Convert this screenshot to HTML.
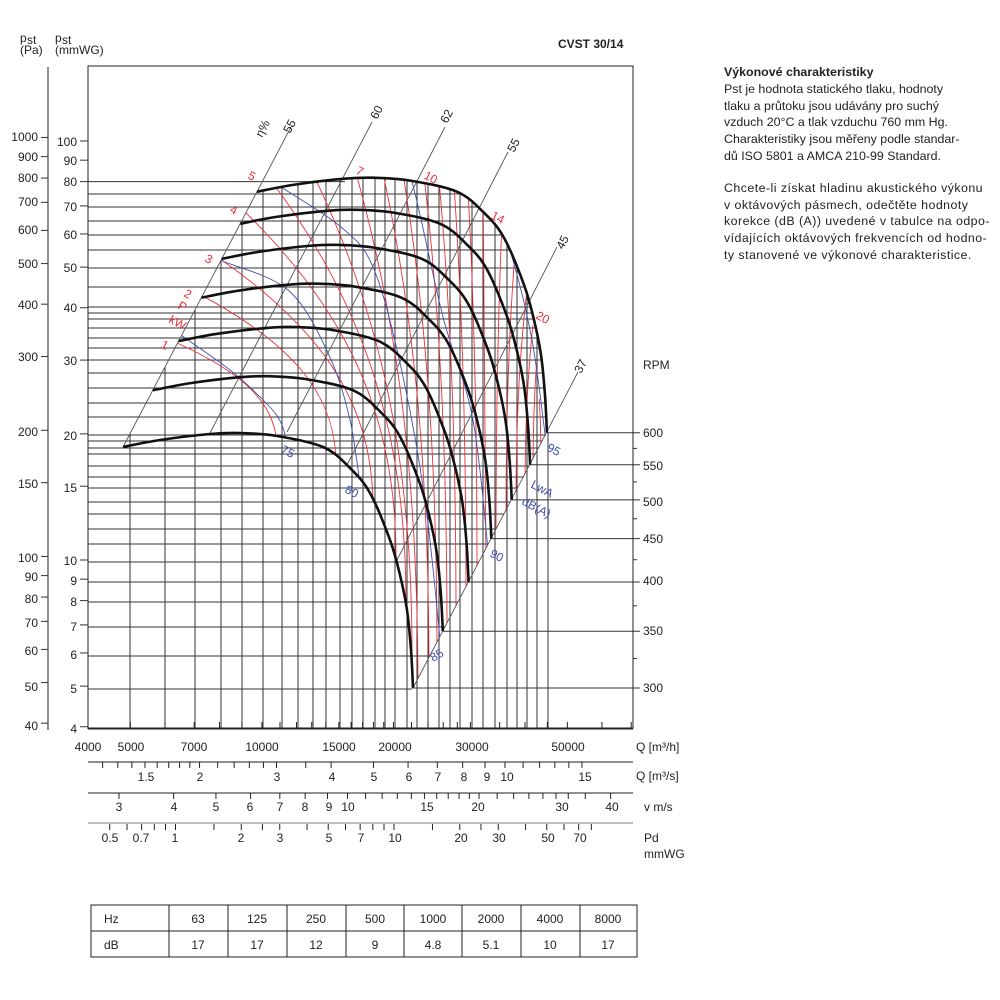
<!DOCTYPE html>
<html><head><meta charset="utf-8"><style>
html,body{margin:0;padding:0;background:#fff;}
body{width:1000px;height:1000px;position:relative;overflow:hidden;font-family:"Liberation Sans",sans-serif;}
svg{position:absolute;left:0;top:0;}
.t{font-family:"Liberation Sans",sans-serif;font-size:12px;fill:#222;}
#txt{position:absolute;left:724px;top:64px;width:276px;font-size:12.4px;line-height:16.8px;color:#222;}
#p2{letter-spacing:0.45px;}
</style></head><body>
<svg id="s" width="1000" height="1000" viewBox="0 0 1000 1000">
<defs>
<clipPath id="ch"><path id="chp" d=""/></clipPath>
<clipPath id="cv"><path id="cvp" d=""/></clipPath>
<clipPath id="cr"><path id="crp" d=""/></clipPath>
</defs>
<g id="grid"></g>
<g id="lines"></g>
<rect x="88" y="66" width="545" height="662" fill="none" stroke="#222" stroke-width="1"/>
<line x1="48" y1="67" x2="48" y2="730" stroke="#222" stroke-width="1"/>
<g id="ticks"></g>
<text class="t" x="20" y="42" font-size="12">p</text><text class="t" x="27" y="44" font-size="7">st</text>
<text class="t" x="20" y="54" font-size="9">(Pa)</text>
<text class="t" x="55" y="42" font-size="12">p</text><text class="t" x="62" y="44" font-size="7">st</text>
<text class="t" x="55" y="54" font-size="9">(mmWG)</text>
<text class="t" x="558" y="48" font-size="13" font-weight="bold">CVST 30/14</text>
<g class="t" text-anchor="end" font-size="12">
<text x="38" y="141">1000</text><text x="38" y="161">900</text><text x="38" y="182">800</text><text x="38" y="206">700</text><text x="38" y="234">600</text><text x="38" y="268">500</text><text x="38" y="309">400</text><text x="38" y="361">300</text><text x="38" y="436">200</text><text x="38" y="488">150</text><text x="38" y="562">100</text><text x="38" y="581">90</text><text x="38" y="603">80</text><text x="38" y="627">70</text><text x="38" y="655">60</text><text x="38" y="691">50</text><text x="38" y="730">40</text>
</g>
<g class="t" text-anchor="end" font-size="12">
<text x="77" y="146">100</text><text x="77" y="165">90</text><text x="77" y="186">80</text><text x="77" y="211">70</text><text x="77" y="239">60</text><text x="77" y="272">50</text><text x="77" y="312">40</text><text x="77" y="365">30</text><text x="77" y="440">20</text><text x="77" y="492">15</text><text x="77" y="565">10</text><text x="77" y="585">9</text><text x="77" y="606">8</text><text x="77" y="631">7</text><text x="77" y="659">6</text><text x="77" y="693">5</text><text x="77" y="733">4</text>
</g>
<g class="t" font-size="12">
<text x="643" y="369">RPM</text>
<text x="643" y="437">600</text><text x="643" y="470">550</text><text x="643" y="506">500</text><text x="643" y="543">450</text><text x="643" y="585">400</text><text x="643" y="635">350</text><text x="643" y="692">300</text>
</g>
<g class="t" text-anchor="middle" font-size="12">
<text x="88" y="751">4000</text><text x="131" y="751">5000</text><text x="194" y="751">7000</text><text x="262" y="751">10000</text><text x="339" y="751">15000</text><text x="395" y="751">20000</text><text x="472" y="751">30000</text><text x="568" y="751">50000</text>
<text x="146" y="781">1.5</text><text x="200" y="781">2</text><text x="277" y="781">3</text><text x="332" y="781">4</text><text x="374" y="781">5</text><text x="409" y="781">6</text><text x="438" y="781">7</text><text x="464" y="781">8</text><text x="487" y="781">9</text><text x="507" y="781">10</text><text x="585" y="781">15</text>
<text x="119" y="811">3</text><text x="174" y="811">4</text><text x="216" y="811">5</text><text x="250" y="811">6</text><text x="280" y="811">7</text><text x="305" y="811">8</text><text x="329" y="811">9</text><text x="348" y="811">10</text><text x="427" y="811">15</text><text x="478" y="811">20</text><text x="562" y="811">30</text><text x="612" y="811">40</text>
<text x="110" y="842">0.5</text><text x="141" y="842">0.7</text><text x="175" y="842">1</text><text x="241" y="842">2</text><text x="280" y="842">3</text><text x="329" y="842">5</text><text x="361" y="842">7</text><text x="395" y="842">10</text><text x="461" y="842">20</text><text x="499" y="842">30</text><text x="548" y="842">50</text><text x="580" y="842">70</text>
</g>
<g class="t" font-size="12">
<text x="636" y="751">Q [m³/h]</text>
<text x="636" y="780">Q [m³/s]</text>
<text x="644" y="811">v m/s</text>
<text x="644" y="842">Pd</text>
<text x="644" y="858">mmWG</text>
</g>
<g class="t" font-size="11.5" fill="#333">
<text transform="translate(262,138) rotate(-62)">η%</text>
<text transform="translate(290,134) rotate(-62)">55</text>
<text transform="translate(377,120) rotate(-62)">60</text>
<text transform="translate(447,124) rotate(-62)">62</text>
<text transform="translate(514,153) rotate(-62)">55</text>
<text transform="translate(563,250) rotate(-62)">45</text>
<text transform="translate(581,374) rotate(-62)">37</text>
</g>
<g class="t" font-size="11" style="fill:#e8303a">
<text transform="translate(160,347) rotate(28)">1</text>
<text transform="translate(168,322) rotate(28)">kW</text>
<text transform="translate(177,308) rotate(28)">P</text>
<text transform="translate(183,296) rotate(28)">2</text>
<text transform="translate(204,261) rotate(28)">3</text>
<text transform="translate(229,212) rotate(28)">4</text>
<text transform="translate(247,178) rotate(28)">5</text>
<text transform="translate(355,173) rotate(28)">7</text>
<text transform="translate(423,178) rotate(28)">10</text>
<text transform="translate(490,218) rotate(28)">14</text>
<text transform="translate(535,318) rotate(28)">20</text>
</g>
<g class="t" font-size="11" style="fill:#4050b0">
<text transform="translate(280,452) rotate(28)">75</text>
<text transform="translate(344,492) rotate(28)">80</text>
<text transform="translate(433,662) rotate(-30)">85</text>
<text transform="translate(489,556) rotate(28)">90</text>
<text transform="translate(546,450) rotate(28)">95</text>
<text transform="translate(530,487) rotate(28)">LwA</text>
<text transform="translate(521,504) rotate(28)">dB(A)</text>
</g>
<g stroke="#222" stroke-width="1" fill="none">
<rect x="91" y="905" width="546" height="52"/>
<line x1="91" y1="931" x2="637" y2="931"/>
<line x1="169" y1="905" x2="169" y2="957"/><line x1="228" y1="905" x2="228" y2="957"/><line x1="287" y1="905" x2="287" y2="957"/><line x1="346" y1="905" x2="346" y2="957"/><line x1="404" y1="905" x2="404" y2="957"/><line x1="462" y1="905" x2="462" y2="957"/><line x1="521" y1="905" x2="521" y2="957"/><line x1="580" y1="905" x2="580" y2="957"/>
</g>
<g class="t" font-size="12" text-anchor="middle">
<text x="104" y="923" text-anchor="start">Hz</text><text x="198" y="923">63</text><text x="257" y="923">125</text><text x="316" y="923">250</text><text x="375" y="923">500</text><text x="433" y="923">1000</text><text x="491" y="923">2000</text><text x="550" y="923">4000</text><text x="608" y="923">8000</text>
<text x="104" y="949" text-anchor="start">dB</text><text x="198" y="949">17</text><text x="257" y="949">17</text><text x="316" y="949">12</text><text x="375" y="949">9</text><text x="433" y="949">4.8</text><text x="491" y="949">5.1</text><text x="550" y="949">10</text><text x="608" y="949">17</text>
</g>
</svg>
<div id="txt"><b>Výkonové charakteristiky</b><br>Pst je hodnota statického tlaku, hodnoty<br>tlaku a průtoku jsou udávány pro suchý<br>vzduch 20°C a tlak vzduchu 760 mm Hg.<br>Charakteristiky jsou měřeny podle standar-<br>dů ISO 5801 a AMCA 210-99 Standard.<br><div style="height:15px"></div><div id="p2">Chcete-li získat hladinu akustického výkonu<br>v oktávových pásmech, odečtěte hodnoty<br>korekce (dB (A)) uvedené v tabulce na odpo-<br>vídajících oktávových frekvencích od hodno-<br>ty stanovené ve výkonové charakteristice.</div></div>
<script>
(function(){
var NS="http://www.w3.org/2000/svg";
function el(parent,tag,attrs){var e=document.createElementNS(NS,tag);for(var k in attrs)e.setAttribute(k,attrs[k]);parent.appendChild(e);return e;}
function cr(p){var d="M"+p[0][0]+","+p[0][1];for(var i=0;i<p.length-1;i++){var p0=p[i-1]||p[i],p1=p[i],p2=p[i+1],p3=p[i+2]||p2;
var c1=[p1[0]+(p2[0]-p0[0])/6,p1[1]+(p2[1]-p0[1])/6],c2=[p2[0]-(p3[0]-p1[0])/6,p2[1]-(p3[1]-p1[1])/6];
d+=" C"+c1[0].toFixed(1)+","+c1[1].toFixed(1)+" "+c2[0].toFixed(1)+","+c2[1].toFixed(1)+" "+p2[0]+","+p2[1];}return d;}
function ln(p){return p.map(function(q){return q[0].toFixed(1)+","+q[1].toFixed(1);}).join(" L");}
var b=[[123,447],[160,440],[210,434],[240,433],[277,436],[323,447],[350,468],[370,493],[390,540],[400,575],[407,610],[411,650],[413,688]];
function fan(n){var L=Math.log10(n/300);return b.map(function(p){return [p[0]+445*L,p[1]-848*L];});}
function sample(p){var tmp=document.createElementNS(NS,"path");tmp.setAttribute("d",cr(p));var s=document.getElementById("s");s.appendChild(tmp);var len=tmp.getTotalLength(),out=[];for(var i=0;i<=60;i++){var q=tmp.getPointAtLength(len*i/60);out.push([q.x,q.y]);}s.removeChild(tmp);return out;}
var f600=sample(fan(600)),f300=sample(b);
var s600=f600[0];
document.getElementById("crp").setAttribute("d","M"+ln(f600)+" L"+ln([[413,688]].concat(f300.slice().reverse()))+" Z");
document.getElementById("chp").setAttribute("d","M88,186 L"+s600[0].toFixed(1)+",186 L"+ln(f600)+" L392,728 L88,728 Z");
document.getElementById("cvp").setAttribute("d","M123,728 L123,447 L"+ln(f600)+" L551,433 L552,728 Z");
var grid=document.getElementById("grid"),lines=document.getElementById("lines"),ticks=document.getElementById("ticks");
var gh=el(grid,"g",{"clip-path":"url(#ch)",stroke:"#333","stroke-width":"1"});
var hy=[194,207,221,235,250,268,287,307,313,319,328,338,348,360,373,388,403,417,435,441,448,454,466,477,488,502,514,529,544,562,582,602,627,656,689];
hy.forEach(function(y){el(gh,"line",{x1:88,y1:y,x2:640,y2:y});});
el(grid,"line",{x1:88,y1:181.6,x2:345,y2:181.6,stroke:"#333","stroke-width":1});
var gv=el(grid,"g",{"clip-path":"url(#cv)",stroke:"#333","stroke-width":"1"});
var vx=[130,165,195,221,242,263,282,298,313,326,340,352,363,375,385,395,407,417,428,439,450,460,472,483,495,507,517,527,537,548];
vx.forEach(function(x){el(gv,"line",{x1:x,y1:100,x2:x,y2:728});});
var gr=el(lines,"g",{"clip-path":"url(#cr)",stroke:"#e8303a","stroke-width":"0.9",fill:"none"});
var red=[[176,345,276,436],[200,297,335,452],[221,262,372,495],[245,214,395,545],[275,187,405,590],[318,183,411,640],[360,181,417,680],[387,181,428,662],[407,182,436,646],[428,185,446,627],[443,190,455,609],[458,196,465,591],[472,203,476,570],[487,215,485,553],[505,243,495,535],[518,265,505,516],[530,300,515,498],[536,335,524,481],[540,370,532,466],[543,405,540,451]];
red.forEach(function(r){var S=[r[0],r[1]],E=[r[2],r[3]],dx=E[0]-S[0],dy=E[1]-S[1];
S=[S[0]-dx*0.08-4,S[1]-dy*0.04-4];E=[E[0]+1,E[1]+12];dx=E[0]-S[0];dy=E[1]-S[1];
el(gr,"path",{d:"M"+S[0]+","+S[1]+" C"+(S[0]+0.7*dx)+","+(S[1]+0.3*dy)+" "+E[0]+","+(E[1]-0.4*dy)+" "+E[0]+","+E[1]});});
var gb=el(lines,"g",{"clip-path":"url(#cr)",stroke:"#4050b0","stroke-width":"0.9",fill:"none"});
[[[165,322],[178,333],[230,370],[268,405],[282,425],[288,450]],
 [[210,253],[220,260],[288,290],[328,353],[350,420],[362,500]],
 [[272,181],[281,187],[341,227],[373,267],[400,363],[425,500],[442,660]],
 [[400,170],[412,182],[443,317],[473,420],[490,570]],
 [[495,215],[510,250],[532,340],[547,450]]].forEach(function(p){el(gb,"path",{d:cr(p)});});
var ge=el(lines,"g",{stroke:"#555","stroke-width":"0.9",fill:"none"});
[[123,447,292,125],[210,433,372,122],[287,432,445,127],[347,465,508,152],[397,560,557,247],[413,688,578,372]].forEach(function(l){el(ge,"line",{x1:l[0],y1:l[1],x2:l[2],y2:l[3]});});
[300,350,400,450,500,550,600].forEach(function(n){var p=fan(n);el(lines,"path",{d:cr(p),stroke:"#111","stroke-width":"2.6",fill:"none"});
var e=p[p.length-1];el(lines,"line",{x1:e[0],y1:e[1],x2:640,y2:e[1],stroke:"#333","stroke-width":"1"});});
[575,525,475,425,375,325].forEach(function(n){var y=688-848*Math.log10(n/300);el(ticks,"line",{x1:633,y1:y,x2:637,y2:y,stroke:"#333","stroke-width":"1"});});
function ym(mm){return 560-419*Math.log10(mm/10);}
[100,90,80,70,60,50,40,30,20,15,10,9,8,7,6,5,4].forEach(function(m){var y=ym(m);el(ticks,"line",{x1:80,y1:y,x2:88,y2:y,stroke:"#333","stroke-width":"1"});});
[1000,900,800,700,600,500,400,300,200,150,100,90,80,70,60,50,40].forEach(function(p){var y=ym(p/9.80665);el(ticks,"line",{x1:41,y1:y,x2:48,y2:y,stroke:"#333","stroke-width":"1"});});
function xq(q){return 88+437*Math.log10(q/4000);}
el(ticks,"line",{x1:88,y1:729,x2:633,y2:729,stroke:"#222","stroke-width":"1"});
var qs=[];for(var q=4000;q<=20000;q+=1000)qs.push(q);[22000,24000,26000,28000,30000,35000,40000,45000,50000,60000,70000].forEach(function(v){qs.push(v);});
qs.forEach(function(q){var x=xq(q);el(ticks,"line",{x1:x,y1:722,x2:x,y2:729,stroke:"#222","stroke-width":"1"});});
el(ticks,"line",{x1:88,y1:762,x2:633,y2:762,stroke:"#222","stroke-width":"1"});
var qm=[1.2,1.3,1.4,1.5,1.6,1.7,1.8,1.9,2,2.2,2.4,2.6,2.8,3,3.5,4,5,6,7,8,9,10,11,12,13,14,15];
qm.forEach(function(v){var x=xq(v*3600);el(ticks,"line",{x1:x,y1:762,x2:x,y2:768,stroke:"#222","stroke-width":"1"});});
el(ticks,"line",{x1:88,y1:793,x2:633,y2:793,stroke:"#222","stroke-width":"1"});
[3,4,5,6,7,8,9,10,11,12,13,14,15,16,17,18,19,20,22,24,26,28,30,32,35,40].forEach(function(v){var x=xq(v*1570);el(ticks,"line",{x1:x,y1:793,x2:x,y2:799,stroke:"#222","stroke-width":"1"});});
el(ticks,"line",{x1:88,y1:823,x2:633,y2:823,stroke:"#999","stroke-width":"1.2"});
[0.4,0.5,0.6,0.7,0.8,0.9,1,1.5,2,2.5,3,4,5,6,7,8,9,10,15,20,25,30,40,50,60,70,80].forEach(function(v){var x=175.5+218.5*Math.log10(v);if(x<89)return;el(ticks,"line",{x1:x,y1:824,x2:x,y2:830,stroke:"#222","stroke-width":"1"});});
})();
</script>
</body></html>
